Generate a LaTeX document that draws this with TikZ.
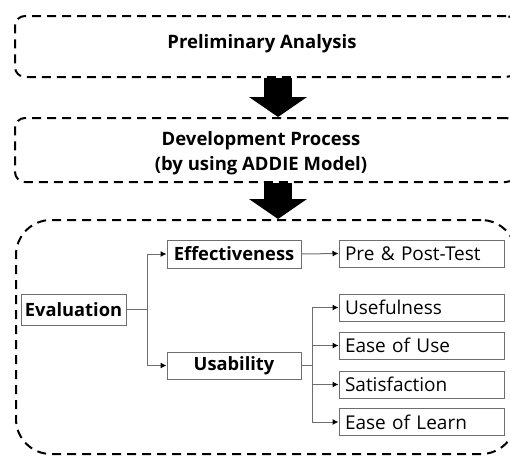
\documentclass[tikz,border=0pt]{standalone}
\usepackage{fontspec}
\setmainfont{Open Sans}
\usetikzlibrary{arrows.meta}
\definecolor{boxgray}{HTML}{6E6E6E}
\begin{document}
\begin{tikzpicture}[x=1pt,y=-1pt,
  stage/.style={draw, line width=2pt, dash pattern=on 9pt off 6pt, rounded corners=10pt, inner sep=0pt},
  bigarrow/.style={line width=28pt, -{Triangle[width=57pt,length=20pt]}},
  title/.style={font=\bfseries\fontsize{18.5}{25}\selectfont, align=center, inner sep=0pt},
  cat/.style={draw=boxgray, line width=1pt, font=\bfseries\fontsize{18.3}{20}\selectfont, inner sep=0pt},
  item/.style={draw=boxgray, line width=1pt, minimum width=165pt, minimum height=27pt, text width=153pt, align=left, font=\fontsize{19}{20}\selectfont, inner xsep=6pt, inner ysep=0pt},
  conn/.style={draw=boxgray, line width=1pt, -{Latex[length=6pt,width=6pt,color=black]}}
]
\useasboundingbox (0,0) rectangle (510,456);
\clip (0,0) rectangle (510,456);

\node[stage, minimum width=501pt, minimum height=61pt] (pa) at (265.5,46.5) {};
\node[title] (pat) at (262,44) {Preliminary Analysis};
\node[stage, minimum width=501pt, minimum height=64pt] (dp) at (265.5,150) {};
\node[title] (dpt) at (261,153) {Development Process\\(by using ADDIE Model)};
\node[stage, rounded corners=35pt, minimum width=500pt, minimum height=234pt] (evbox) at (266,337) {};

\draw[bigarrow] ([xshift=12.5pt]pa.south) -- ([xshift=12.5pt]dp.north);
\draw[bigarrow] ([xshift=12.5pt]dp.south) -- ([xshift=12pt]evbox.north);

\node[cat, minimum width=105pt, minimum height=31pt] (ev) at (73.5,309.5) {Evaluation};
\node[cat, minimum width=134pt, minimum height=28pt] (eff) at (234,254) {Effectiveness};
\node[cat, minimum width=134pt, minimum height=27pt] (usab) at (234,365.5) {Usability};

\node[item] (pp) at (421.5,253.5) {Pre \& Post-Test};
\node[item] (use) at (421.5,307.5) {Usefulness};
\node[item] (eou) at (421.5,345.5) {Ease of Use};
\node[item] (sat) at (421.5,384.5) {Satisfaction};
\node[item] (eol) at (421.5,422) {Ease of Learn};

\draw[conn] (ev.east) -- ++(21,0) |- (eff.west);
\draw[conn] (ev.east) -- ++(21,0) |- (usab.west);
\draw[conn] (eff.east) -- (pp.west);
\draw[conn] (usab.east) -- ++(11,0) |- (use.west);
\draw[conn] (usab.east) -- ++(11,0) |- (eou.west);
\draw[conn] (usab.east) -- ++(11,0) |- (sat.west);
\draw[conn] (usab.east) -- ++(11,0) |- (eol.west);
\end{tikzpicture}
\end{document}
